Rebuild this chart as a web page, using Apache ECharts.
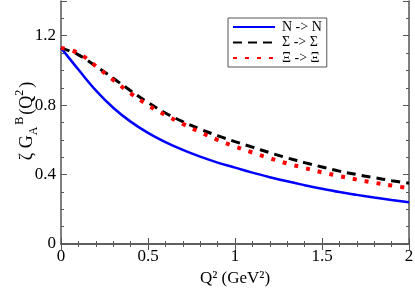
<!DOCTYPE html>
<html><head><meta charset="utf-8">
<script src="https://cdn.jsdelivr.net/npm/echarts@6/dist/echarts.min.js"></script>
<style>html,body{margin:0;padding:0;background:#fff}#c{width:415px;height:291px}</style>
</head><body><div id="c"></div>
<script>
const q2 = [0,0.1,0.2,0.3,0.4,0.5,0.6,0.7,0.8,0.9,1.0,1.1,1.2,1.3,1.4,1.5,1.6,1.7,1.8,1.9,2.0];
const nucleon = [1.13,1.005,0.885,0.785,0.705,0.64,0.587,0.542,0.503,0.469,0.44,0.411,0.385,0.361,0.339,0.318,0.299,0.283,0.268,0.254,0.241];
const sigma   = [1.13,1.09,1.025,0.955,0.883,0.815,0.755,0.705,0.662,0.624,0.59,0.558,0.526,0.496,0.469,0.444,0.42,0.4,0.382,0.365,0.35];
const xi      = [1.13,1.10,1.025,0.945,0.868,0.80,0.743,0.692,0.644,0.6,0.562,0.527,0.494,0.464,0.438,0.413,0.391,0.371,0.353,0.337,0.321];
const names = ['N -> N', 'Σ -> Σ', 'Ξ -> Ξ'];
const yLabels = [0, 0.4, 0.8, 1.2];
const yTitle = '{a|ζ G}{s|A}{p|B}{a|(Q}{p|2}{a|)}';
const xTitle = 'Q² (GeV²)';

const font = '"Liberation Serif", "DejaVu Serif", serif';
const axisCol = '#555';
function pairs(ys){ return q2.map((x,i)=>[x, ys[i]]); }

const chart = echarts.init(document.getElementById('c'));
const xBase = {
  type:'value', min:0, max:2, interval:0.5,
  axisLine:{show:true, lineStyle:{color:axisCol, width:1.5}},
  axisTick:{show:true, inside:true, length:6, lineStyle:{color:axisCol, width:1}},
  minorTick:{show:true, splitNumber:5, length:3, lineStyle:{color:axisCol, width:1}},
  splitLine:{show:false}, minorSplitLine:{show:false}
};
const yMinor = {
  type:'value', min:0, max:1.4, interval:0.1,
  axisLine:{show:true, lineStyle:{color:axisCol, width:1.5}},
  axisTick:{show:true, inside:true, length:3, lineStyle:{color:axisCol, width:1}},
  splitLine:{show:false}
};
const yMajor = {
  type:'value', min:0, max:1.4, interval:0.4,
  axisLine:{show:false},
  axisTick:{show:true, inside:true, length:6, lineStyle:{color:axisCol, width:1}},
  axisLabel:{show:false},
  splitLine:{show:false}
};
chart.setOption({
  animation:false,
  grid:{left:61, right:6, top:1, bottom:47, containLabel:false, outerBoundsMode:'none'},
  legend:{
    orient:'vertical', left:228, top:18, data:names,
    itemWidth:42, itemHeight:12, itemGap:1.5,
    padding:[2,5,2,4],
    borderColor:'#555', borderWidth:1,
    itemStyle:{opacity:0},
    textStyle:{fontFamily:font, fontSize:14, color:'#000', padding:[0,0,0,2]}
  },
  graphic:[{
    type:'text', x:27, y:121, rotation:Math.PI/2,
    style:{
      text:yTitle, align:'center', verticalAlign:'middle',
      fontFamily:font, fontSize:18, fill:'#000',
      rich:{
        a:{fontFamily:font, fontSize:18, fill:'#000', color:'#000', lineHeight:26, verticalAlign:'middle'},
        s:{fontFamily:font, fontSize:12, fill:'#000', color:'#000', lineHeight:26, verticalAlign:'bottom', padding:[0,2,0,0]},
        p:{fontFamily:font, fontSize:12, fill:'#000', color:'#000', lineHeight:26, verticalAlign:'top', padding:[0,2,0,0]}
      }
    }
  }],
  xAxis:[
    Object.assign({}, xBase, {
      position:'bottom',
      name:xTitle, nameLocation:'middle', nameGap:25,
      nameTextStyle:{fontFamily:font, fontSize:17, color:'#000'},
      axisLabel:{show:true, fontFamily:font, fontSize:17, color:'#000', margin:4,
        formatter:v=>String(v)}
    }),
    Object.assign({}, xBase, {position:'top', axisLabel:{show:false}})
  ],
  yAxis:[
    Object.assign({}, yMinor, {
      position:'left',
      axisLabel:{show:true, fontFamily:font, fontSize:17, color:'#000', margin:5,
        formatter:v=>{ const r=Math.round(v*10)/10; return yLabels.some(t=>Math.abs(t-r)<1e-6) ? String(r) : ''; }}
    }),
    Object.assign({}, yMajor, {position:'left'}),
    Object.assign({}, yMinor, {position:'right', axisLabel:{show:false}}),
    Object.assign({}, yMajor, {position:'right'})
  ],
  series:[
    {name:names[0], type:'line', data:pairs(nucleon), smooth:0.4, symbol:'none',
     lineStyle:{color:'#0000ff', width:2.5}, itemStyle:{color:'#0000ff'}},
    {name:names[1], type:'line', data:pairs(sigma), smooth:0.4, symbol:'none',
     lineStyle:{color:'#000', width:3, type:[9,6]}, itemStyle:{color:'#000'}},
    {name:names[2], type:'line', data:pairs(xi), smooth:0.4, symbol:'none',
     lineStyle:{color:'#ff0000', width:4, type:[4,8]}, itemStyle:{color:'#ff0000'}}
  ]
});
</script></body></html>
